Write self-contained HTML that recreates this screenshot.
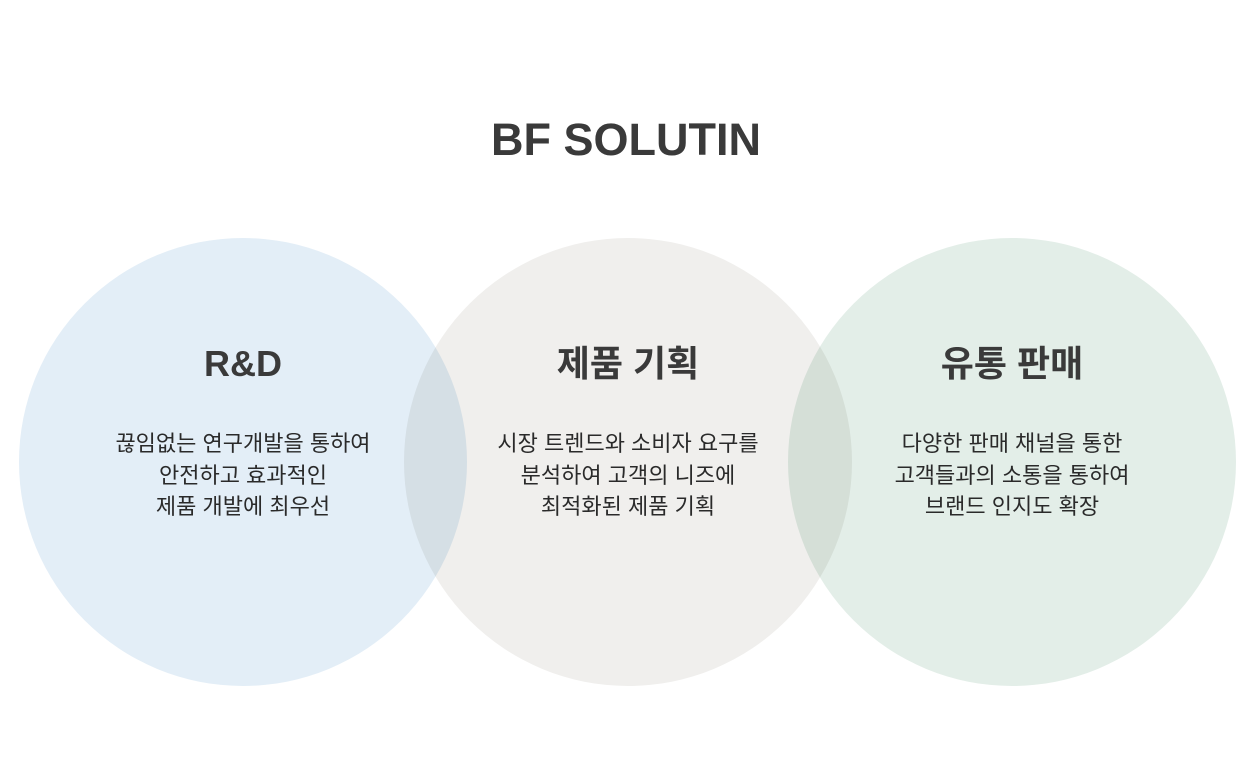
<!DOCTYPE html>
<html><head><meta charset="utf-8"><style>
html,body{margin:0;padding:0;background:#fff;}
body{width:1252px;height:759px;position:relative;overflow:hidden;font-family:"Liberation Sans","Noto Sans CJK KR",sans-serif;color:#333;}
.t{position:absolute;left:0;width:1252px;top:112px;text-align:center;font-size:45px;font-weight:bold;color:#3a3a3a;line-height:56px;}
.c{position:absolute;top:238px;width:448px;height:448px;border-radius:50%;mix-blend-mode:multiply;}
.x{position:absolute;top:339px;width:448px;text-align:center;}
.x h2{margin:0;font-size:36px;font-weight:bold;color:#3a3a3a;line-height:50px;}
.x p{margin:0;margin-top:39px;font-size:22px;line-height:31.5px;color:#2a2a2a;}
</style></head><body>
<div class="t">BF SOLUTIN</div>
<div class="c" style="left:19px;background:#e3eef7"></div>
<div class="c" style="left:404px;background:#f0efed"></div>
<div class="c" style="left:788px;background:#e3eee8"></div>
<div class="x" style="left:19px"><h2>R&amp;D</h2><p>끊임없는 연구개발을 통하여<br>안전하고 효과적인<br>제품 개발에 최우선</p></div>
<div class="x" style="left:404px"><h2>제품 기획</h2><p>시장 트렌드와 소비자 요구를<br>분석하여 고객의 니즈에<br>최적화된 제품 기획</p></div>
<div class="x" style="left:788px"><h2>유통 판매</h2><p>다양한 판매 채널을 통한<br>고객들과의 소통을 통하여<br>브랜드 인지도 확장</p></div>
</body></html>
